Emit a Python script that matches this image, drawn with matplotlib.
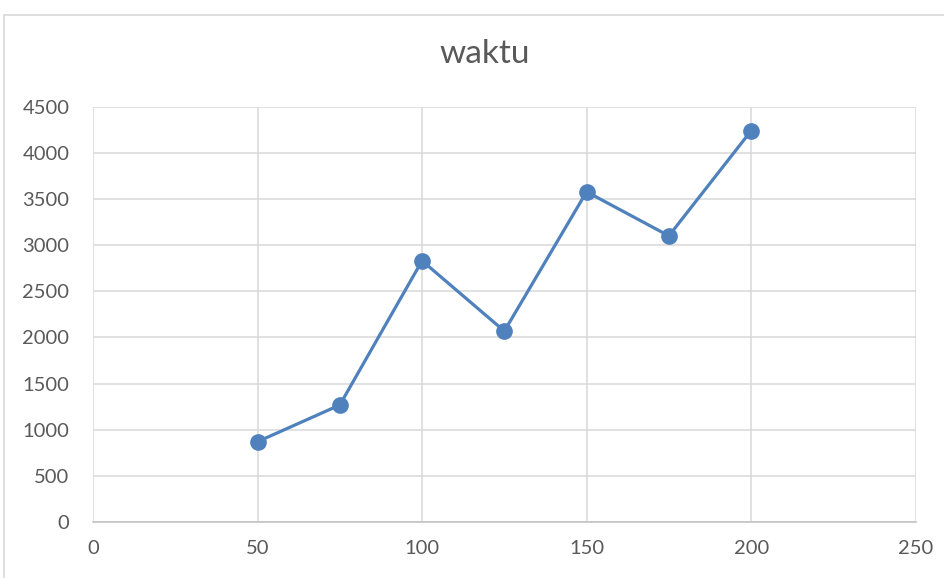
import matplotlib.pyplot as plt
from matplotlib.patches import Rectangle

# data
x_vals = [50, 75, 100, 125, 150, 175, 200]
waktu = [870, 1268, 2832, 2069, 3580, 3102, 4242]
x_ticks = [0, 50, 100, 150, 200, 250]
y_ticks = [0, 500, 1000, 1500, 2000, 2500, 3000, 3500, 4000, 4500]

plt.rcParams["font.family"] = ["Lato", "DejaVu Sans"]

fig = plt.figure(figsize=(9.44, 5.78), dpi=100)
ax = fig.add_axes([0.0985, 0.097, 0.8715, 0.718])

ax.plot(x_vals, waktu, color="#4F81BD", lw=2.3, marker="o", ms=11,
        zorder=3, clip_on=False)

ax.set_xlim(0, 250)
ax.set_ylim(0, 4500)
ax.set_xticks(x_ticks)
ax.set_yticks(y_ticks)
ax.grid(True, color="#D9D9D9", lw=1.1)
ax.set_axisbelow(True)
for side in ("top", "right", "left"):
    ax.spines[side].set_visible(False)
ax.spines["bottom"].set_color("#BFBFBF")
ax.spines["bottom"].set_linewidth(1.1)
ax.tick_params(length=0, labelsize=14.5, labelcolor="#595959")
ax.tick_params(axis="y", pad=17)
ax.tick_params(axis="x", pad=13)

fig.text(0.513, 0.906, "waktu", ha="center", va="center", fontsize=24,
         color="#595959")

# chart-area frame
fig.patches.append(Rectangle((0.004, -0.01), 1.0, 0.984, transform=fig.transFigure,
                             fill=False, ec="#D9D9D9", lw=1.2))

fig.savefig("out.png", dpi=100)
